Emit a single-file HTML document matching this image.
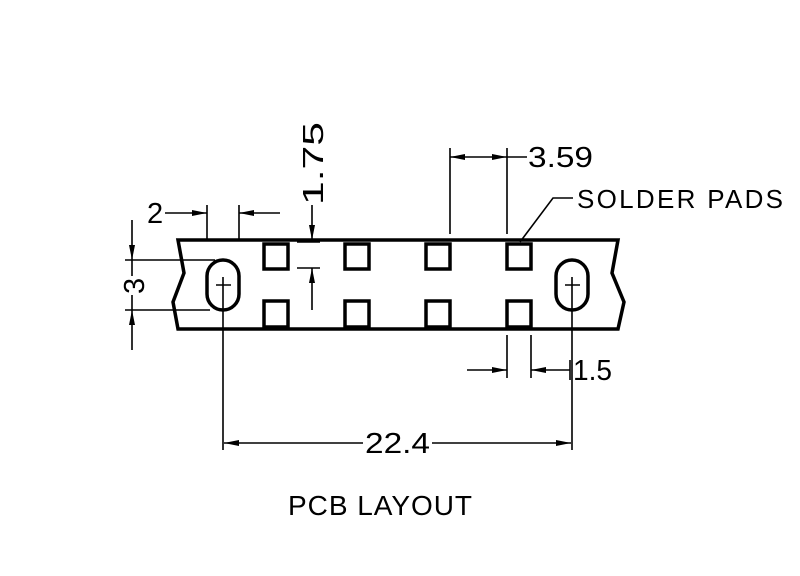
<!DOCTYPE html>
<html><head><meta charset="utf-8"><style>html,body{margin:0;padding:0;background:#fff}svg{display:block}</style></head>
<body>
<svg width="800" height="576" viewBox="0 0 800 576" xmlns="http://www.w3.org/2000/svg">
<rect width="800" height="576" fill="#fff"/>
<g fill="none" stroke="#000" stroke-width="3.5" stroke-linejoin="miter">
<path d="M178,240 L618,240 L612,273 L624,302 L618,329 L178,329 L173,302 L184,273 Z"/>
<rect x="264" y="244" width="24" height="25"/><rect x="345" y="244" width="24" height="25"/><rect x="426" y="244" width="24" height="25"/><rect x="507" y="244" width="24" height="25"/>
<rect x="264" y="301" width="24" height="26"/><rect x="345" y="301" width="24" height="26"/><rect x="426" y="301" width="24" height="26"/><rect x="507" y="301" width="24" height="26"/>
<rect x="207" y="260" width="32" height="50" rx="16"/>
<rect x="556" y="260" width="32" height="50" rx="16"/>
</g>
<g fill="none" stroke="#000" stroke-width="1.6">
<path d="M216,285 H231 M223,277 V450"/>
<path d="M565,285 H580 M572,277 V450"/>
<path d="M363,443 H224 M432,443 H571"/>
<path d="M207,205 V240 M239,205 V240 M165,213 H207 M280,213 H239"/>
<path d="M312,205 V240 M297,242 H320 M297,268 H320 M312,310 V268"/>
<path d="M125,260 H215 M125,310 H210 M132,220 V276 M132,295 V350"/>
<path d="M450,148 V234 M507,148 V234 M507,157 H527 M450,157 H507"/>
<path d="M573,198 H553 L520,242"/>
<path d="M507,335 V378 M531,335 V378 M570,360 V380 M467,370 H507 M570,370 H531"/>
</g>
<g fill="#000" stroke="none">
<!-- 22.4 -->
<path d="M224,443 l15,-3 v6 Z"/><path d="M571,443 l-15,-3 v6 Z"/>
<!-- 2 -->
<path d="M207,213 l-15,-3 v6 Z"/><path d="M239,213 l15,-3 v6 Z"/>
<!-- 1.75 -->
<path d="M312,240 l-3,-15 h6 Z"/><path d="M312,268 l-3,15 h6 Z"/>
<!-- 3 -->
<path d="M132,260 l-3,-15 h6 Z"/><path d="M132,310 l-3,15 h6 Z"/>
<!-- 3.59 -->
<path d="M450,157 l15,-3 v6 Z"/><path d="M507,157 l-15,-3 v6 Z"/>
<!-- 1.5 -->
<path d="M507,370 l-15,-3 v6 Z"/><path d="M531,370 l15,-3 v6 Z"/>
</g>
<g font-family="Liberation Sans, sans-serif" fill="#000">
<text x="365" y="453" font-size="29" textLength="65" lengthAdjust="spacingAndGlyphs">22.4</text>
<text x="288" y="515" font-size="28" textLength="184" lengthAdjust="spacing">PCB  LAYOUT</text>
<text x="528" y="167" font-size="29" textLength="65" lengthAdjust="spacingAndGlyphs">3.59</text>
<text x="577" y="208" font-size="26" textLength="206" lengthAdjust="spacing">SOLDER  PADS</text>
<text x="573" y="380" font-size="29" textLength="39" lengthAdjust="spacingAndGlyphs">1.5</text>
<text x="147" y="223" font-size="29">2</text>
<text transform="translate(323,205) rotate(-90)" font-size="29" textLength="83" lengthAdjust="spacingAndGlyphs">1.75</text>
<text transform="translate(144,294) rotate(-90)" font-size="29">3</text>
</g>
</svg>
</body></html>
